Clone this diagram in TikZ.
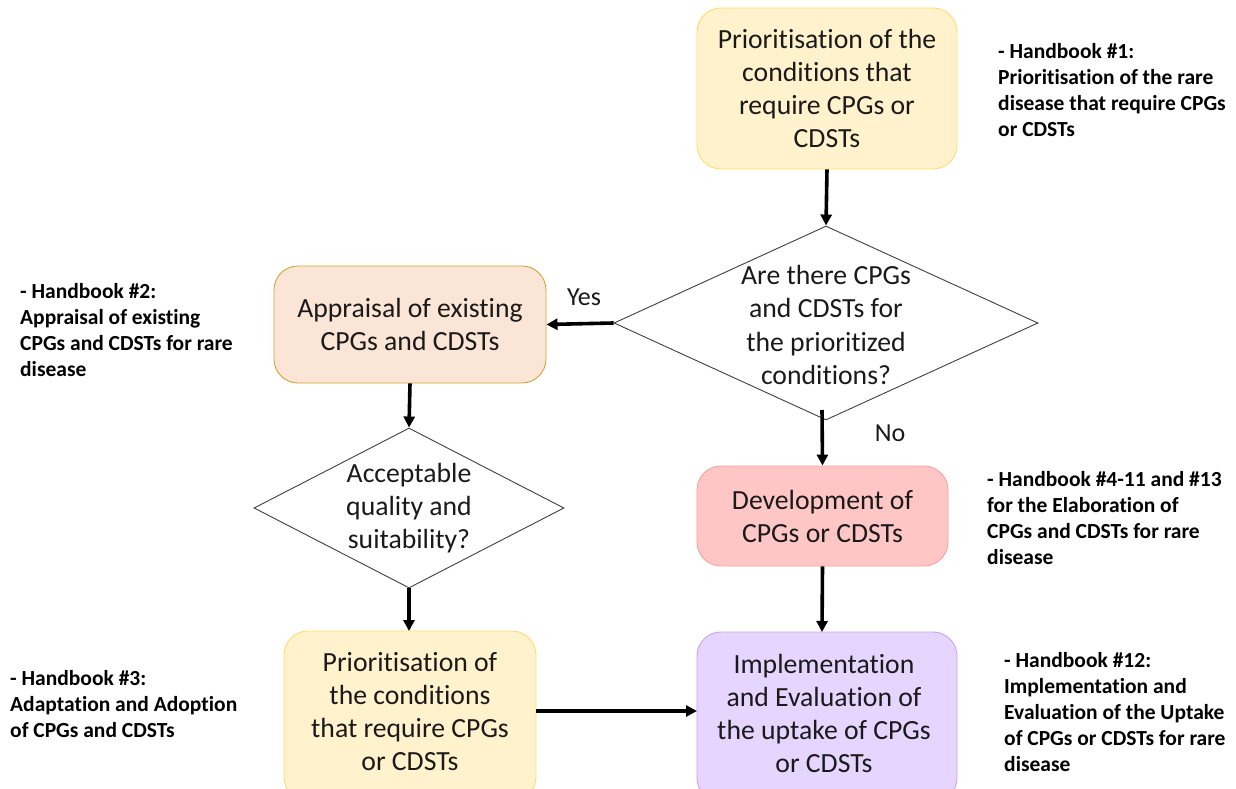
\documentclass[tikz,border=0pt]{standalone}
\usepackage{fontspec}
\setmainfont[Ligatures={NoCommon}]{Carlito}
\usetikzlibrary{shapes.geometric,arrows.meta}
\definecolor{yelfill}{HTML}{FFF2CC}
\definecolor{yelline}{HTML}{FFDB70}
\definecolor{orfill}{HTML}{FBE5D6}
\definecolor{orline}{HTML}{D4A535}
\definecolor{redfill}{HTML}{FFC6C6}
\definecolor{redline}{HTML}{FF9E9E}
\definecolor{purfill}{HTML}{E6D5FF}
\definecolor{purline}{HTML}{C9A3F5}
\definecolor{txt}{HTML}{1A1A1A}
\begin{document}
\begin{tikzpicture}[x=1pt,y=-1pt,
  box/.style={rounded corners=24pt, line width=0.9pt, align=center, inner sep=0pt,
    text=txt, font=\fontsize{27.7}{33}\selectfont},
  dia/.style={diamond, draw=black!75, line width=0.9pt, inner sep=0pt},
  dtext/.style={align=center, text=txt, inner sep=0pt, font=\fontsize{27.7}{33.3}\selectfont},
  note/.style={anchor=north west, align=left, inner sep=0pt, text=black,
    font=\fontsize{21.5}{26}\selectfont\bfseries},
  lbl/.style={text=txt, inner sep=0pt, font=\fontsize{26}{30}\selectfont},
  arr/.style={line width=3.6pt, -{Triangle[length=11pt,width=11pt]}}
]
\useasboundingbox (0,0) rectangle (1236,789);
\clip (0,0) rectangle (1236,789);
\fill[white] (0,0) rectangle (1236,789);

% boxes
\node[box, draw=yelline, fill=yelfill, minimum width=260pt, minimum height=161pt]
  (prio) at (827,88.5) {Prioritisation of the\\conditions that\\require CPGs or\\CDSTs};
\node[box, draw=orline, fill=orfill, minimum width=272pt, minimum height=117pt]
  (appr) at (410,324.5) {Appraisal of existing\\CPGs and CDSTs};
\node[box, draw=redline, fill=redfill, minimum width=251pt, minimum height=100pt]
  (dev) at (822.5,516) {Development of\\CPGs or CDSTs};
\node[box, draw=yelline, fill=yelfill, minimum width=252pt, minimum height=170pt]
  (adapt) at (410,716) {};
\node[box] (adapttxt) at (410,712) {Prioritisation of\\the conditions\\that require CPGs\\or CDSTs};
\node[box, draw=purline, fill=purfill, minimum width=260pt, minimum height=170pt]
  (impl) at (827,717) {};
\node[box] (impltxt) at (824,713) {Implementation\\and Evaluation of\\the uptake of CPGs\\or CDSTs};

% diamonds
\node[dia, minimum width=424pt, minimum height=194pt] (q1) at (826,323) {};
\node[dtext] (q1t) at (826,325) {Are there CPGs\\and CDSTs for\\the prioritized\\conditions?};
\node[dia, minimum width=310pt, minimum height=160pt] (q2) at (409,508) {};
\node[dtext] (q2t) at (409,508) {Acceptable\\quality and\\suitability?};

% labels
\node[lbl] (yes) at (584,297) {Yes};
\node[lbl] (no) at (890,433) {No};

% arrows
\draw[arr] (prio.south) -- (q1.north);
\draw[arr] (q1.west) -- (appr.east);
\coordinate (q1b) at (822,410);
\draw[arr] (q1b) -- (dev.north);
\draw[arr] (appr.south) -- (q2.north);
\draw[arr] (q2.south) -- (409,631);
\draw[arr] (dev.south) -- (822,632);
\draw[arr] (536,711) -- (697,711);

% notes
\node[note] (n1) at (998,43.5) {- Handbook \#1:\\Prioritisation of the rare\\disease that require CPGs\\or CDSTs};
\node[note] (n2) at (20,283.5) {- Handbook \#2:\\Appraisal of existing\\CPGs and CDSTs for rare\\disease};
\node[note] (n4) at (987,471.5) {- Handbook \#4-11 and \#13\\for the Elaboration of\\CPGs and CDSTs for rare\\disease};
\node[note] (n3) at (10,670.5) {- Handbook \#3:\\Adaptation and Adoption\\of CPGs and CDSTs};
\node[note] (n12) at (1004,652.5) {- Handbook \#12:\\Implementation and\\Evaluation of the Uptake\\of CPGs or CDSTs for rare\\disease};
\end{tikzpicture}
\end{document}
